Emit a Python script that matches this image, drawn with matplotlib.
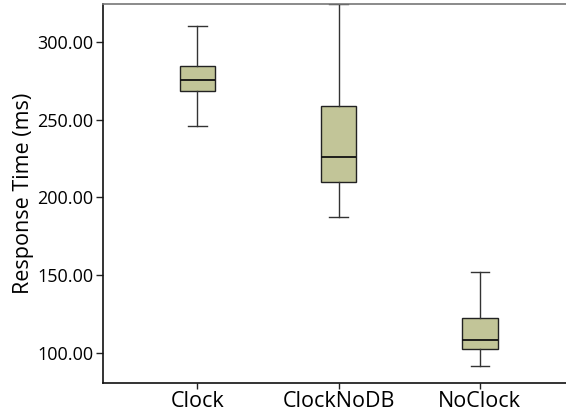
import matplotlib
matplotlib.use("Agg")
import matplotlib.pyplot as plt

categories = ["Clock", "ClockNoDB", "NoClock"]
whisker_low = [246.0, 187.3, 91.4]
q1 = [268.3, 210.0, 102.4]
medians = [275.4, 226.3, 108.4]
q3 = [284.8, 259.1, 122.3]
whisker_high = [310.1, 324.5, 152.2]
yticks = [100, 150, 200, 250, 300]

plt.rcParams['font.family'] = ['Open Sans', 'DejaVu Sans']

fig = plt.figure(figsize=(5.66, 4.18), dpi=100)
ax = fig.add_axes([103/566, 35/418, 1.0 - 103/566 + 0.01, (383-4)/418])

stats = []
for i, c in enumerate(categories):
    stats.append(dict(label=c, whislo=whisker_low[i], q1=q1[i], med=medians[i],
                      q3=q3[i], whishi=whisker_high[i], fliers=[]))

ax.bxp(stats, positions=[1, 2, 3], widths=0.25, patch_artist=True, showfliers=False,
       boxprops=dict(facecolor="#c2c598", edgecolor="#222222", linewidth=1.0),
       medianprops=dict(color="#111111", linewidth=1.3),
       whiskerprops=dict(color="#333333", linewidth=1.0),
       capprops=dict(color="#333333", linewidth=1.0),
       capwidths=0.13)

ax.set_xlim(0.332, 3.65)
ax.set_ylim(80.7, 324.4)
ax.set_yticks(yticks)
ax.set_yticklabels([f"{v:.2f}" for v in yticks], fontsize=13)
ax.set_xticks([1, 2, 3])
ax.set_xticklabels(categories, fontsize=15.5)
ax.set_ylabel("Response Time (ms)", fontsize=15.5, labelpad=2)
ax.tick_params(axis='y', length=5, width=1, color="#222222", pad=2)
ax.tick_params(axis='x', length=4, width=1, color="#222222", pad=2)
for s in ["left", "bottom"]:
    ax.spines[s].set_color("#111111")
    ax.spines[s].set_linewidth(1.2)
ax.spines["top"].set_color("#777777")
ax.spines["top"].set_linewidth(1.2)
ax.spines["right"].set_visible(False)

fig.savefig("out.png", dpi=100)
